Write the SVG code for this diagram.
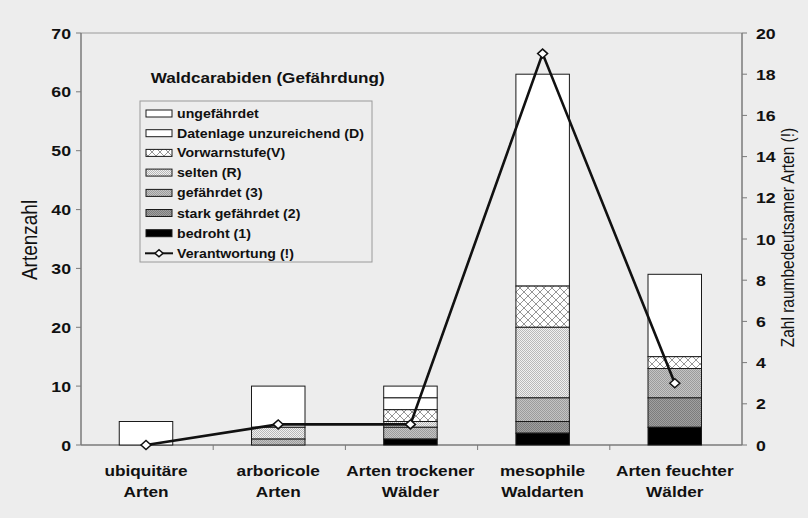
<svg xmlns="http://www.w3.org/2000/svg" width="808" height="518" viewBox="0 0 808 518">
<style>
text{font-family:"Liberation Sans",Arial,sans-serif;fill:#111}
.b{font-weight:bold}
.tk{font-size:15px;font-weight:bold}
.cat{font-size:14.6px;font-weight:bold;text-anchor:middle}
.lg{font-size:12.3px;font-weight:bold}
.seg{stroke:#1a1a1a;stroke-width:1}
.ax{stroke:#7a7a7a;stroke-width:1.5;fill:none}
.tick{stroke:#7a7a7a;stroke-width:1}
.dia{fill:#fff;stroke:#111;stroke-width:1.5}
</style>
<defs>
<pattern id="vw" width="8" height="8" patternUnits="userSpaceOnUse">
<rect width="8" height="8" fill="#fff"/>
<path d="M0,0L8,8M0,8L8,0" stroke="#8a8a8a" stroke-width="0.9"/>
</pattern>
<pattern id="sel" width="2" height="2" patternUnits="userSpaceOnUse">
<rect width="2" height="2" fill="#f0f0f0"/>
<rect width="1" height="1" fill="#b8b8b8"/>
<rect x="1" y="1" width="1" height="1" fill="#b8b8b8"/>
</pattern>
<pattern id="g3" width="2" height="2" patternUnits="userSpaceOnUse">
<rect width="2" height="2" fill="#c4c4c4"/>
<rect width="1" height="1" fill="#9c9c9c"/>
<rect x="1" y="1" width="1" height="1" fill="#9c9c9c"/>
</pattern>
<pattern id="g2" width="2" height="2" patternUnits="userSpaceOnUse">
<rect width="2" height="2" fill="#a0a0a0"/>
<rect width="1" height="1" fill="#7c7c7c"/>
<rect x="1" y="1" width="1" height="1" fill="#7c7c7c"/>
</pattern>
</defs>
<rect width="808" height="518" fill="#ededed"/>

<g id="axes">
<line x1="81" y1="33" x2="742" y2="33" stroke="#9a9a9a" stroke-width="1"/>
<line class="ax" x1="81" y1="33" x2="81" y2="445"/>
<line class="ax" x1="742" y1="33" x2="742" y2="445"/>
<line class="ax" x1="81" y1="445" x2="742" y2="445"/>
<path class="tick" d="M76,33H81M76,91.8H81M76,150.7H81M76,209.6H81M76,268.4H81M76,327.3H81M76,386.1H81M76,445H81"/>
<path class="tick" d="M742,33H747M742,74.2H747M742,115.4H747M742,156.6H747M742,197.8H747M742,239H747M742,280.2H747M742,321.4H747M742,362.6H747M742,403.8H747M742,445H747"/>
<path class="tick" d="M213.2,445V450M345.4,445V450M477.6,445V450M609.8,445V450"/>
</g>

<g id="left-labels" class="tk" text-anchor="end">
<text transform="translate(71,38.5) scale(1.18,1)">70</text>
<text transform="translate(71,97.3) scale(1.18,1)">60</text>
<text transform="translate(71,156.2) scale(1.18,1)">50</text>
<text transform="translate(71,215.1) scale(1.18,1)">40</text>
<text transform="translate(71,273.9) scale(1.18,1)">30</text>
<text transform="translate(71,332.8) scale(1.18,1)">20</text>
<text transform="translate(71,391.6) scale(1.18,1)">10</text>
<text transform="translate(71,450.5) scale(1.18,1)">0</text>
</g>
<g id="right-labels" class="tk">
<text transform="translate(756,38.5) scale(1.18,1)">20</text>
<text transform="translate(756,79.7) scale(1.18,1)">18</text>
<text transform="translate(756,120.9) scale(1.18,1)">16</text>
<text transform="translate(756,162.1) scale(1.18,1)">14</text>
<text transform="translate(756,203.3) scale(1.18,1)">12</text>
<text transform="translate(756,244.5) scale(1.18,1)">10</text>
<text transform="translate(756,285.7) scale(1.18,1)">8</text>
<text transform="translate(756,326.9) scale(1.18,1)">6</text>
<text transform="translate(756,368.1) scale(1.18,1)">4</text>
<text transform="translate(756,409.3) scale(1.18,1)">2</text>
<text transform="translate(756,450.5) scale(1.18,1)">0</text>
</g>
<text id="ytitle-left" transform="translate(36.5,240) rotate(-90) scale(1,1.18)" text-anchor="middle" font-size="19">Artenzahl</text>
<text id="ytitle-right" transform="translate(793.5,237.5) rotate(-90) scale(1,1.18)" text-anchor="middle" font-size="15.5">Zahl raumbedeutsamer Arten (!)</text>

<g id="bar-ubiquitaere">
<rect class="seg" x="119.25" y="421.5" width="53.5" height="23.5" fill="#fff"/>
</g>
<g id="bar-arboricole">
<rect class="seg" x="251.5" y="386.1" width="53.5" height="41.2" fill="#fff"/>
<rect class="seg" x="251.5" y="427.3" width="53.5" height="11.8" fill="url(#sel)"/>
<rect class="seg" x="251.5" y="439.1" width="53.5" height="5.9" fill="url(#g3)"/>
</g>
<g id="bar-trocken">
<rect class="seg" x="383.7" y="386.1" width="53.5" height="11.8" fill="#fff"/>
<rect class="seg" x="383.7" y="397.9" width="53.5" height="11.8" fill="#fff"/>
<rect class="seg" x="383.7" y="409.7" width="53.5" height="11.8" fill="url(#vw)"/>
<rect class="seg" x="383.7" y="421.5" width="53.5" height="5.8" fill="url(#sel)"/>
<rect class="seg" x="383.7" y="427.3" width="53.5" height="11.8" fill="url(#g3)"/>
<rect class="seg" x="383.7" y="439.1" width="53.5" height="5.9" fill="#000"/>
</g>
<g id="bar-mesophil">
<rect class="seg" x="515.9" y="74.2" width="53.5" height="211.9" fill="#fff"/>
<rect class="seg" x="515.9" y="286.1" width="53.5" height="41.2" fill="url(#vw)"/>
<rect class="seg" x="515.9" y="327.3" width="53.5" height="70.6" fill="url(#sel)"/>
<rect class="seg" x="515.9" y="397.9" width="53.5" height="23.6" fill="url(#g3)"/>
<rect class="seg" x="515.9" y="421.5" width="53.5" height="11.7" fill="url(#g2)"/>
<rect class="seg" x="515.9" y="433.2" width="53.5" height="11.8" fill="#000"/>
</g>
<g id="bar-feucht">
<rect class="seg" x="648" y="274.3" width="53.5" height="82.4" fill="#fff"/>
<rect class="seg" x="648" y="356.7" width="53.5" height="11.8" fill="url(#vw)"/>
<rect class="seg" x="648" y="368.5" width="53.5" height="29.4" fill="url(#g3)"/>
<rect class="seg" x="648" y="397.9" width="53.5" height="29.4" fill="url(#g2)"/>
<rect class="seg" x="648" y="427.3" width="53.5" height="17.7" fill="#000"/>
</g>

<g id="connectors">
<polyline points="146,445 278.2,424.4 410.4,424.4 542.6,53.6 674.8,383.2" fill="none" stroke="#111" stroke-width="2.6" stroke-linejoin="miter"/>
<path class="dia" d="M141,445L146,440.5L151,445L146,449.5Z"/>
<path class="dia" d="M273.2,424.4L278.2,419.9L283.2,424.4L278.2,428.9Z"/>
<path class="dia" d="M405.4,424.4L410.4,419.9L415.4,424.4L410.4,428.9Z"/>
<path class="dia" d="M537.6,53.6L542.6,49.1L547.6,53.6L542.6,58.1Z"/>
<path class="dia" d="M669.8,383.2L674.8,378.7L679.8,383.2L674.8,387.7Z"/>
</g>

<g id="categories" class="cat">
<text transform="translate(146,476) scale(1.18,1)">ubiquitäre</text>
<text transform="translate(146,497) scale(1.18,1)">Arten</text>
<text transform="translate(278.2,476) scale(1.18,1)">arboricole</text>
<text transform="translate(278.2,497) scale(1.18,1)">Arten</text>
<text transform="translate(410.4,476) scale(1.18,1)">Arten trockener</text>
<text transform="translate(410.4,497) scale(1.18,1)">Wälder</text>
<text transform="translate(542.6,476) scale(1.18,1)">mesophile</text>
<text transform="translate(542.6,497) scale(1.18,1)">Waldarten</text>
<text transform="translate(674.8,476) scale(1.18,1)">Arten feuchter</text>
<text transform="translate(674.8,497) scale(1.18,1)">Wälder</text>
</g>

<text id="title" class="b" transform="translate(150.7,83) scale(1.18,1)" font-size="14.5">Waldcarabiden (Gefährdung)</text>

<g id="legend">
<rect x="140" y="101" width="232" height="161" fill="#ededed" stroke="#9a9a9a" stroke-width="1"/>
<rect class="seg" x="146" y="110" width="26" height="7" fill="#fff"/>
<rect class="seg" x="146" y="129.7" width="26" height="7" fill="#fff"/>
<rect class="seg" x="146" y="149.4" width="26" height="7" fill="url(#vw)"/>
<rect class="seg" x="146" y="169.1" width="26" height="7" fill="url(#sel)"/>
<rect class="seg" x="146" y="189.4" width="26" height="7" fill="url(#g3)"/>
<rect class="seg" x="146" y="209.5" width="26" height="7" fill="url(#g2)"/>
<rect class="seg" x="146" y="229.7" width="26" height="7" fill="#000"/>
<line x1="145" y1="253.3" x2="173" y2="253.3" stroke="#111" stroke-width="2"/>
<path class="dia" d="M155,253.3L159,249.8L163,253.3L159,256.8Z" stroke-width="1.2"/>
<g class="lg">
<text transform="translate(177,118) scale(1.15,1)">ungefährdet</text>
<text transform="translate(177,137.7) scale(1.15,1)">Datenlage unzureichend (D)</text>
<text transform="translate(177,157.4) scale(1.15,1)">Vorwarnstufe(V)</text>
<text transform="translate(177,177.1) scale(1.15,1)">selten (R)</text>
<text transform="translate(177,197.4) scale(1.15,1)">gefährdet (3)</text>
<text transform="translate(177,217.5) scale(1.15,1)">stark gefährdet (2)</text>
<text transform="translate(177,237.7) scale(1.15,1)">bedroht (1)</text>
<text transform="translate(177,257.8) scale(1.15,1)">Verantwortung (!)</text>
</g>
</g>
</svg>
